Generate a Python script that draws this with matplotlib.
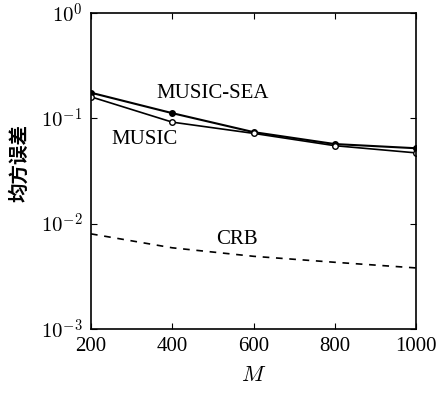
import matplotlib
matplotlib.use("Agg")
import matplotlib.pyplot as plt

plt.rcParams['font.family'] = ['Liberation Serif', 'Noto Sans CJK SC']
plt.rcParams['mathtext.fontset'] = 'cm'

M = [200, 400, 600, 800, 1000]
music_sea = [0.175, 0.112, 0.074, 0.057, 0.052]
music = [0.160, 0.092, 0.072, 0.055, 0.047]
crb = [0.0080, 0.0059, 0.0049, 0.0043, 0.0038]

fig = plt.figure(figsize=(4.37, 3.95), dpi=100)
ax = fig.add_axes([91/437, 1 - 329/395, 325/437, 316/395])

ax.plot(M, music_sea, color='k', lw=1.5, marker='o', ms=4)
ax.plot(M, music, color='k', lw=1.2, marker='o', ms=4, mfc='white')
ax.plot(M, crb, color='k', lw=1.2, ls=(0, (4, 4)))

ax.set_yscale('log')
ax.set_xlim(200, 1000)
ax.set_ylim(1e-3, 1)
ax.set_xticks(M)
ax.set_xticklabels(['200', '400', '600', '800', '1000'], fontsize=15)
ax.set_yticks([1e-3, 1e-2, 1e-1, 1])
ax.set_yticklabels([r'$10^{-3}$', r'$10^{-2}$', r'$10^{-1}$', r'$10^{0}$'], fontsize=15)
ax.minorticks_off()
ax.tick_params(direction='in', top=True, right=True, length=4, pad=6)
for s in ax.spines.values():
    s.set_linewidth(1.2)

# curve labels
fig.text(213/437, 1 - 93/395, 'MUSIC-SEA', ha='center', va='center', fontsize=15)
fig.text(144/437, 1 - 140/395, 'MUSIC', ha='center', va='center', fontsize=15)
fig.text(237/437, 1 - 239/395, 'CRB', ha='center', va='center', fontsize=15)

ax.set_xlabel(r'$M$', fontsize=16, labelpad=8)
fig.text(19/437, 1 - 163/395, '均方误差', rotation=90, ha='center', va='center',
         fontsize=14, family=['Noto Sans CJK SC'], fontweight='bold')

fig.savefig('out.png', dpi=100)
